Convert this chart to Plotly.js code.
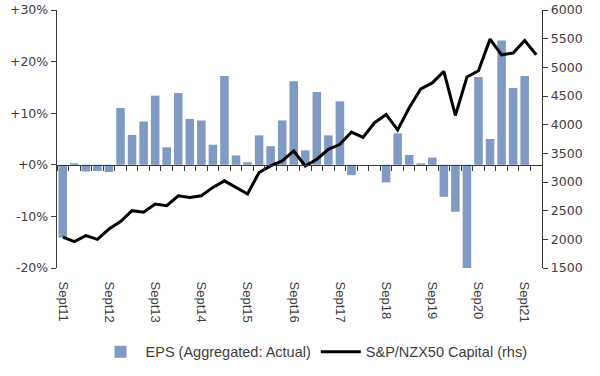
<!DOCTYPE html>
<html>
<head>
<meta charset="utf-8">
<script src="https://cdn.plot.ly/plotly-3.0.1.min.js"></script>
<style>html,body{margin:0;padding:0;background:#fff;}#chart{width:600px;height:376px;}</style>
</head>
<body>
<div id="chart"></div>
<script>
// Quarterly categories
const quarters = [
  "Sept11","Dec11","Mar12","Jun12","Sept12","Dec12","Mar13","Jun13",
  "Sept13","Dec13","Mar14","Jun14","Sept14","Dec14","Mar15","Jun15",
  "Sept15","Dec15","Mar16","Jun16","Sept16","Dec16","Mar17","Jun17",
  "Sept17","Dec17","Mar18","Jun18","Sep18","Dec18","Mar19","Jun19",
  "Sep19","Dec19","Mar20","Jun20","Sep20","Dec20","Mar21","Jun21",
  "Sept21","Dec21"
];
// EPS growth (Aggregated: Actual), %
const epsGrowth = [
  -14.1, 0.3, -1.3, -1.2, -1.4, 11.0, 5.8, 8.4,
  13.4, 3.4, 13.9, 8.9, 8.6, 3.9, 17.2, 1.8,
  0.5, 5.7, 3.6, 8.6, 16.2, 2.8, 14.1, 5.7,
  12.3, -2.0, 0.0, 0.0, -3.4, 6.1, 1.9, 0.3,
  1.4, -6.2, -9.1, -20.0, 17.0, 5.0, 24.1, 14.9,
  17.2, null
];
// S&P/NZX50 Capital index (rhs)
const nzx50 = [
  2040, 1960, 2066, 2000, 2180, 2310, 2500, 2472,
  2616, 2586, 2760, 2732, 2760, 2906, 3020, 2906,
  2790, 3166, 3280, 3367, 3541, 3280, 3397, 3570,
  3657, 3871, 3779, 4034, 4178, 3909, 4294, 4624,
  4728, 4929, 4160, 4832, 4941, 5492, 5219, 5249,
  5467, 5219
];
// Axis labels
const yearTickCats = ["Sept11","Sept12","Sept13","Sept14","Sept15","Sept16","Sept17","Sep18","Sep19","Sep20","Sept21"];
const leftTickVals = [-20, -10, 0, 10, 20, 30];
const leftTickText = ["-20%", "-10%", "+0%", "+10%", "+20%", "+30%"];
const rightTickVals = [1500, 2000, 2500, 3000, 3500, 4000, 4500, 5000, 5500, 6000];

const axisColor = '#3a3a3a';
const textColor = '#404040';
const tickFont = {family: 'DejaVu Sans, Verdana, sans-serif', size: 12.5, color: textColor};

const traces = [
  {
    type: 'bar', name: 'EPS (Aggregated: Actual)',
    x: quarters, y: epsGrowth, xaxis: 'x', yaxis: 'y',
    marker: {color: '#7f9ac3', line: {width: 0}},
    hoverinfo: 'x+y'
  },
  {
    type: 'scatter', mode: 'lines', name: 'S&P/NZX50 Capital (rhs)',
    x: quarters, y: nzx50, xaxis: 'x2', yaxis: 'y2',
    line: {color: '#000000', width: 3},
    hoverinfo: 'x+y'
  }
];

const layout = {
  width: 600, height: 376,
  margin: {l: 57, r: 58, t: 10, b: 107, pad: 0},
  paper_bgcolor: '#ffffff', plot_bgcolor: '#ffffff',
  showlegend: true,
  bargap: 0.26,
  legend: {
    orientation: 'h', x: 0.53, xanchor: 'center', y: -0.32, yanchor: 'middle',
    font: {family: 'Liberation Sans, Arial, sans-serif', size: 14.5, color: textColor},
    itemwidth: 40, tracegroupgap: 0
  },
  xaxis: {
    type: 'category', categoryorder: 'array', categoryarray: quarters,
    range: [-0.5, 41.5],
    tickmode: 'array', tickvals: yearTickCats, ticktext: yearTickCats,
    tickangle: 90, ticks: 'outside', ticklen: 10, tickcolor: 'rgba(0,0,0,0)',
    tickfont: {family: 'Liberation Sans, Arial, sans-serif', size: 13, color: textColor},
    showline: false, showgrid: false, zeroline: false, fixedrange: true
  },
  xaxis2: {
    type: 'category', categoryorder: 'array', categoryarray: quarters,
    range: [-0.5, 41.5],
    overlaying: 'x', anchor: 'free', position: 0.4,
    tickmode: 'linear', tick0: 0, dtick: 1, tickson: 'boundaries',
    ticks: 'outside', ticklen: 5, tickwidth: 1, tickcolor: axisColor,
    showticklabels: false,
    showline: true, linecolor: axisColor, linewidth: 1.3,
    showgrid: false, zeroline: false, fixedrange: true
  },
  yaxis: {
    range: [-20, 30], tickmode: 'array', tickvals: leftTickVals, ticktext: leftTickText,
    ticks: 'outside', ticklen: 5, tickwidth: 1, tickcolor: axisColor,
    showline: true, linecolor: axisColor, linewidth: 1.3,
    showgrid: false, zeroline: false, tickfont: tickFont, fixedrange: true
  },
  yaxis2: {
    range: [1500, 6000], overlaying: 'y', side: 'right', anchor: 'x',
    tickmode: 'array', tickvals: rightTickVals,
    ticks: 'outside', ticklen: 5, tickwidth: 1, tickcolor: axisColor,
    showline: true, linecolor: axisColor, linewidth: 1.3,
    showgrid: false, zeroline: false, tickfont: tickFont, fixedrange: true
  }
};

Plotly.newPlot('chart', traces, layout, {staticPlot: true, displayModeBar: false});
</script>
</body>
</html>
